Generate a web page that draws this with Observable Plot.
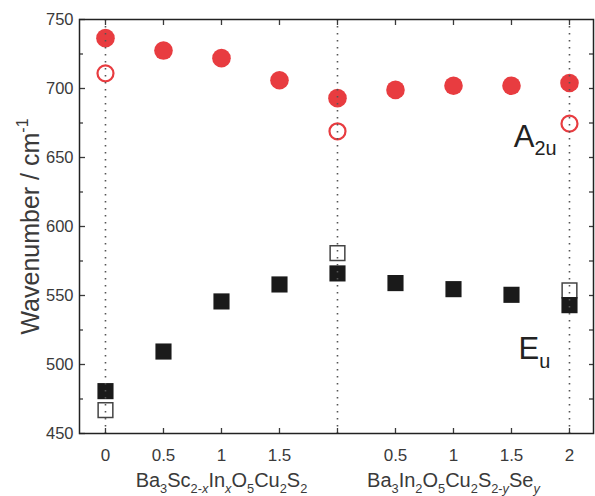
<!DOCTYPE html>
<html>
<head>
<meta charset="utf-8">
<script src="https://cdn.jsdelivr.net/npm/d3@7"></script>
<script src="https://cdn.jsdelivr.net/npm/@observablehq/plot@0.6"></script>
<style>
  html, body { margin: 0; padding: 0; background: #fff; }
</style>
</head>
<body>
<div id="chart"></div>
<script>
// ---- data ----
const xPos       = [0, 0.5, 1, 1.5, 2, 2.5, 3, 3.5, 4];
const a2uFilled  = [736.5, 727.5, 722, 706, 693, 699, 702, 702, 704];
const euFilled   = [480.7, 509.4, 545.7, 558, 566, 559, 554.6, 550.5, 543];
const openX      = [0, 2, 4];
const a2uOpen    = [711, 669, 674.5];
const euOpen     = [467, 580.7, 553.7];
const tickPos    = [0, 0.5, 1, 1.5, 2, 2.5, 3, 3.5, 4];
const tickLabels = ["0", "0.5", "1", "1.5", "", "0.5", "1", "1.5", "2"];
const yMajor     = [450, 500, 550, 600, 650, 700, 750];
const yMinor     = [475, 525, 575, 625, 675, 725];
const yAll       = [475, 500, 525, 550, 575, 600, 625, 650, 675, 700, 725];
const seriesLabels = [
  {x: 3.52, v: 665, text: "A_{2u}"},
  {x: 3.56, v: 511, text: "E_{u}"}
];
const axisTitles = [
  {x: 1, text: "Ba_{3}Sc_{2-<x>}In_{<x>}O_{5}Cu_{2}S_{2}"},
  {x: 3, text: "Ba_{3}In_{2}O_{5}Cu_{2}S_{2-<y>}Se_{<y>}"}
];
const yTitle = "Wavenumber / cm^{-1}";

const A2 = xPos.map((x, i) => ({x, v: a2uFilled[i]}));
const E2 = xPos.map((x, i) => ({x, v: euFilled[i]}));
const A0 = openX.map((x, i) => ({x, v: a2uOpen[i]}));
const E0 = openX.map((x, i) => ({x, v: euOpen[i]}));

const RED = "#e83c40";
const INK = "#3a3a3a";

const chart = Plot.plot({
  width: 595,
  height: 496,
  marginLeft: 79,
  marginRight: 2,
  marginTop: 19,
  marginBottom: 63,
  style: {fontFamily: "'Liberation Sans', Arial, sans-serif", color: INK, background: "#fff"},
  x: {domain: [-0.224, 4.207]},
  y: {domain: [450, 750]},
  marks: [
    // open symbols
    Plot.dot(E0, {x: "x", y: "v", symbol: "square", r: 8.3, fill: "none", stroke: "#444", strokeWidth: 1.5}),
    Plot.dot(A0, {x: "x", y: "v", r: 8, fill: "none", stroke: RED, strokeWidth: 2.2}),
    // filled symbols
    Plot.dot(A2, {x: "x", y: "v", r: 9.3, fill: RED, stroke: "none"}),
    Plot.dot(E2, {x: "x", y: "v", symbol: "square", r: 9.1, fill: "#1a1a1a", stroke: "none"}),
    // dotted guides
    Plot.ruleX(openX, {stroke: "#555", strokeWidth: 1.6, strokeDasharray: "1.4,5.6"}),
    // axes: all ticks inward
    Plot.axisY({anchor: "left", ticks: yMajor, tickSize: 6, dx: 6, tickPadding: 6, fontSize: 16.5, label: null, strokeWidth: 1.3}),
    Plot.axisY({anchor: "left", ticks: yMinor, tickSize: 4, dx: 4, text: null, label: null, strokeWidth: 1.3}),
    Plot.axisY({anchor: "right", ticks: yAll, tickSize: 5, dx: -5, text: null, label: null, strokeWidth: 1.3}),
    Plot.axisX({anchor: "top", ticks: tickPos, tickSize: 5, dy: 5, text: null, label: null, strokeWidth: 1.3}),
    Plot.axisX({anchor: "bottom", ticks: tickPos, tickSize: 5, dy: -5, text: null, label: null, strokeWidth: 1.3}),
    Plot.axisX({anchor: "bottom", ticks: tickPos, tickSize: 0, tickPadding: 15, fontSize: 17,
      tickFormat: d => tickLabels[tickPos.indexOf(d)], label: null}),
    Plot.frame({stroke: "#222", strokeWidth: 1.5}),
    // series labels
    Plot.text(seriesLabels, {x: "x", y: "v", text: "text", textAnchor: "start", lineAnchor: "middle", fontSize: 31, fill: "#222"}),
    // axis titles
    Plot.text(axisTitles, {x: "x", text: "text", frameAnchor: "bottom", dy: 47, lineAnchor: "middle", fontSize: 20, fill: INK}),
    Plot.text([yTitle], {text: d => d, frameAnchor: "left", dx: -49, rotate: -90, textAnchor: "middle", lineAnchor: "middle", fontSize: 25, fill: INK})
  ]
});

// turn simple markup (_{..} sub, ^{..} sup, <x> italic) into tspans
function richify(el, str, fs) {
  while (el.firstChild) el.removeChild(el.firstChild);
  const re = /([_^])\{([^}]*)\}|([^_^]+)/g;
  let m, shift = 0;
  const ns = "http://www.w3.org/2000/svg";
  while ((m = re.exec(str))) {
    let content, target, size;
    if (m[1]) {
      content = m[2];
      size = fs * 0.64;
      target = m[1] === "_" ? fs * 0.28 : -fs * 0.42;
    } else {
      content = m[3];
      size = fs;
      target = 0;
    }
    const parts = content.split(/<(\w+)>/);
    let first = true;
    parts.forEach((p, j) => {
      if (!p) return;
      const t = document.createElementNS(ns, "tspan");
      t.textContent = p;
      t.setAttribute("font-size", size);
      if (j % 2 === 1) t.setAttribute("font-style", "italic");
      if (first) {
        const d = target - shift;
        if (d !== 0) t.setAttribute("dy", d);
        shift = target;
        first = false;
      }
      el.appendChild(t);
    });
  }
}
d3.select(chart).selectAll("text").each(function () {
  const s = this.textContent;
  if (/[_^]\{/.test(s)) {
    const g = this.closest("[font-size]");
    const fs = g ? parseFloat(g.getAttribute("font-size")) : 17;
    richify(this, s, fs);
  }
});

document.getElementById("chart").appendChild(chart);
</script>
</body>
</html>
